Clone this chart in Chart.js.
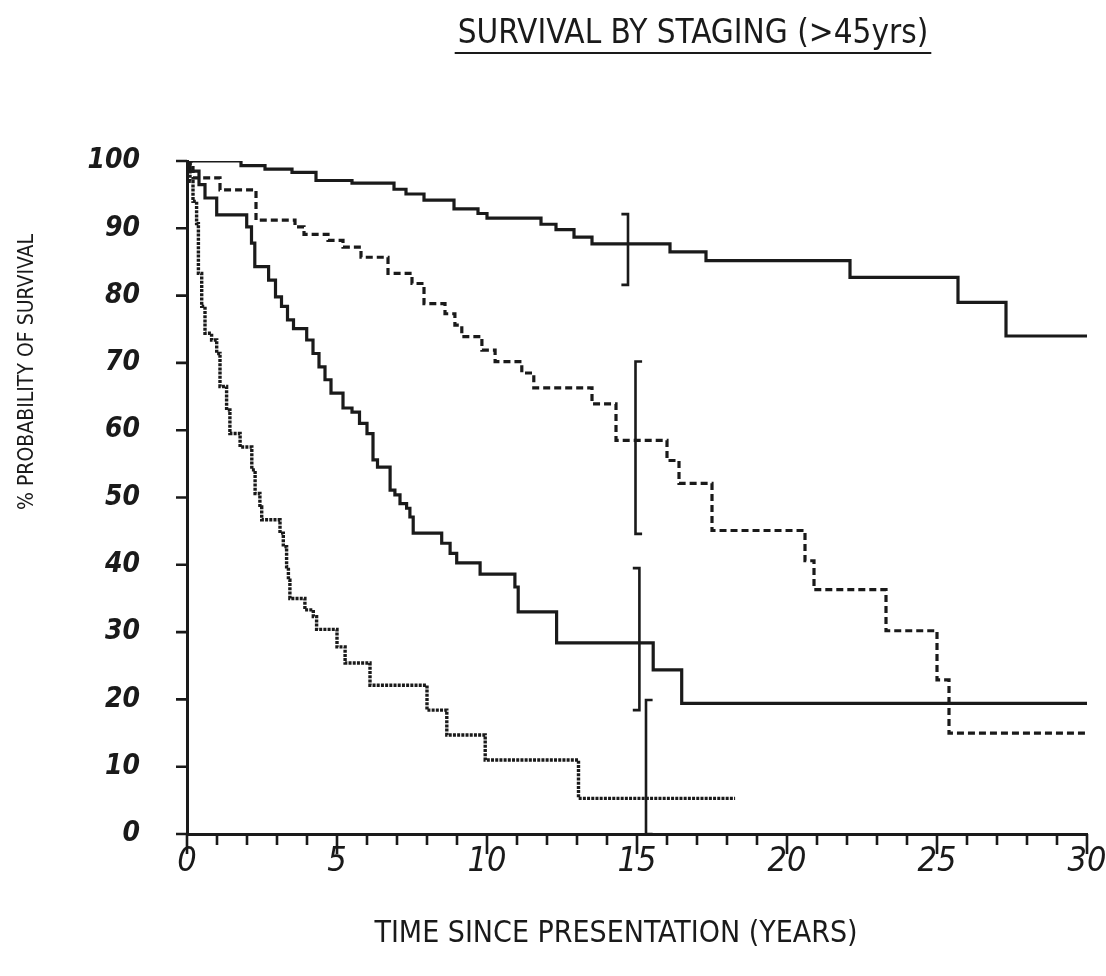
<!DOCTYPE html>
<html>
<head>
<meta charset="utf-8">
<title>Survival by staging (&gt;45yrs)</title>
<script src="https://cdn.jsdelivr.net/npm/chart.js@4.4.0/dist/chart.umd.min.js"></script>
<style>
  html, body { margin: 0; padding: 0; background: #ffffff; }
  canvas { display: block; }
</style>
</head>
<body>
<canvas id="survivalChart" width="1106" height="976"></canvas>
<script>
// Kaplan-Meier estimates: time of each drop (years) and the survival (%) after it
const stageATimes = [0, 1.8, 2.6, 3.5, 4.3, 5.5, 6.9, 7.3, 7.9, 8.9, 9.7, 10.0, 11.8, 12.3, 12.9, 13.5, 16.1, 17.3, 22.1, 25.7, 27.3, 30];
const stageASurv  = [100, 99.3, 98.8, 98.3, 97.1, 96.7, 95.8, 95.1, 94.2, 92.9, 92.2, 91.5, 90.6, 89.8, 88.7, 87.7, 86.5, 85.2, 82.7, 79.0, 74.0, 74.0];

const stageBTimes = [0, 0.2, 1.1, 2.3, 3.6, 3.9, 4.7, 5.2, 5.8, 6.7, 7.5, 7.9, 8.6, 8.93, 9.16, 9.83, 10.27, 11.16, 11.56, 13.5, 14.3, 16.0, 16.4, 17.5, 20.6, 20.9, 23.3, 25.0, 25.4, 30];
const stageBSurv  = [100, 97.5, 95.7, 91.2, 90.2, 89.1, 88.2, 87.2, 85.7, 83.3, 81.8, 78.8, 77.3, 75.6, 73.9, 71.9, 70.2, 68.5, 66.3, 63.9, 58.5, 55.5, 52.1, 45.1, 40.6, 36.3, 30.2, 22.9, 15.0, 15.0];

const stageCTimes = [0, 0.1, 0.4, 0.6, 0.99, 1.99, 2.15, 2.26, 2.72, 2.95, 3.15, 3.35, 3.55, 3.99, 4.2, 4.4, 4.6, 4.8, 5.2, 5.5, 5.75, 6.0, 6.2, 6.35, 6.77, 6.93, 7.1, 7.32, 7.43, 7.54, 8.49, 8.77, 8.99, 9.77, 10.93, 11.04, 12.32, 15.54, 16.49, 30];
const stageCSurv  = [100, 98.5, 96.5, 94.5, 92.0, 90.2, 87.8, 84.3, 82.3, 79.8, 78.4, 76.4, 75.1, 73.4, 71.4, 69.4, 67.5, 65.5, 63.3, 62.7, 61.0, 59.5, 55.6, 54.5, 51.1, 50.4, 49.1, 48.4, 47.1, 44.7, 43.2, 41.7, 40.3, 38.6, 36.7, 33.0, 28.4, 24.4, 19.4, 19.4];

const stageDTimes = [0, 0.1, 0.2, 0.32, 0.38, 0.49, 0.6, 0.82, 0.99, 1.1, 1.32, 1.43, 1.77, 2.16, 2.27, 2.43, 2.49, 3.1, 3.21, 3.32, 3.38, 3.43, 3.93, 4.21, 4.32, 5.0, 5.27, 6.1, 8.0, 8.66, 9.94, 13.05, 18.27];
const stageDSurv  = [100, 97, 94, 90.7, 83.3, 78.4, 74.4, 73.4, 71.4, 66.5, 63.0, 59.5, 57.5, 54.1, 50.6, 48.6, 46.7, 44.7, 42.7, 39.7, 37.7, 35.0, 33.3, 32.3, 30.4, 27.8, 25.4, 22.1, 18.4, 14.7, 11.0, 5.3, 5.3];

// 95% confidence limits at 15 years, one per stage (A, B, C, D)
const ciTimes = [14.7, 14.95, 15.08, 15.3];
const ciLower = [81.6, 44.6, 18.4, 0];
const ciUpper = [92.1, 70.2, 39.5, 19.9];
const ciCapSide = [-1, 1, -1, 1];

const xTickValues = [0, 5, 10, 15, 20, 25, 30];
const xTickLabels = ['0', '5', '10', '15', '20', '25', '30'];
const yTickValues = [0, 10, 20, 30, 40, 50, 60, 70, 80, 90, 100];
const yTickLabels = ['0', '10', '20', '30', '40', '50', '60', '70', '80', '90', '100'];

const chartTitle = 'SURVIVAL BY STAGING (>45yrs)';
const xTitle = 'TIME SINCE PRESENTATION (YEARS)';
const yTitle = '% PROBABILITY OF SURVIVAL';

const ink = '#1a1a1a';
const narrow = '"Liberation Sans Narrow", "DejaVu Sans Condensed", "Arial Narrow", sans-serif';

function toPoints(times, surv) {
  return times.map((t, i) => ({ x: t, y: surv[i] }));
}

function curve(label, times, surv, dash, width) {
  return {
    label: label,
    data: toPoints(times, surv),
    stepped: 'before',
    borderColor: ink,
    borderWidth: width,
    borderDash: dash,
    borderCapStyle: 'butt',
    pointRadius: 0,
    fill: false
  };
}

const capLen = 0.22;
const ciSets = ciTimes.map((t, i) => ({
  label: 'ci' + i,
  data: [
    { x: t + ciCapSide[i] * capLen, y: ciUpper[i] },
    { x: t, y: ciUpper[i] },
    { x: t, y: ciLower[i] },
    { x: t + ciCapSide[i] * capLen, y: ciLower[i] }
  ],
  borderColor: ink,
  borderWidth: 2.6,
  pointRadius: 0,
  fill: false
}));

// axis tick marks plus the titles, drawn from the chart's scales
const frame = {
  id: 'frame',
  afterDraw(chart) {
    const { ctx, chartArea, scales: { x, y } } = chart;
    ctx.save();
    ctx.strokeStyle = ink;
    ctx.lineWidth = 2.6;
    ctx.beginPath();
    for (let v = 0; v <= 30; v++) {
      const px = x.getPixelForValue(v);
      const len = v % 5 === 0 ? 20 : 11;
      ctx.moveTo(px, chartArea.bottom);
      ctx.lineTo(px, chartArea.bottom + len);
    }
    yTickValues.forEach(v => {
      const py = y.getPixelForValue(v);
      ctx.moveTo(chartArea.left - 11, py);
      ctx.lineTo(chartArea.left, py);
    });
    ctx.stroke();

    ctx.fillStyle = ink;
    ctx.textAlign = 'center';
    ctx.textBaseline = 'middle';

    ctx.font = '33px ' + narrow;
    ctx.fillText(chartTitle, 693, 34);
    const w = ctx.measureText(chartTitle).width;
    ctx.lineWidth = 2;
    ctx.beginPath();
    ctx.moveTo(693 - w / 2 - 3, 53);
    ctx.lineTo(693 + w / 2 + 3, 53);
    ctx.stroke();

    ctx.font = '30px ' + narrow;
    ctx.fillText(xTitle, 616, 934);

    ctx.translate(28, 372);
    ctx.rotate(-Math.PI / 2);
    ctx.font = '21px ' + narrow;
    ctx.fillText(yTitle, 0, 0);
    ctx.restore();
  }
};

new Chart(document.getElementById('survivalChart'), {
  type: 'line',
  data: {
    datasets: [
      curve('Stage A', stageATimes, stageASurv, [], 3.2),
      curve('Stage B', stageBTimes, stageBSurv, [7, 4], 3.2),
      curve('Stage C', stageCTimes, stageCSurv, [], 3.2),
      curve('Stage D', stageDTimes, stageDSurv, [3, 1.2], 3.4)
    ].concat(ciSets)
  },
  options: {
    responsive: false,
    animation: false,
    layout: { padding: { left: 0, top: 161, right: 19, bottom: 0 } },
    plugins: {
      legend: { display: false },
      tooltip: { enabled: false },
      title: { display: false }
    },
    scales: {
      x: {
        type: 'linear',
        min: 0,
        max: 30,
        afterBuildTicks: s => { s.ticks = xTickValues.map(v => ({ value: v })); },
        afterFit: s => { s.height = 142; s.paddingLeft = 0; s.paddingRight = 0; },
        grid: { display: false, drawTicks: false },
        border: { display: true, width: 3, color: ink },
        ticks: {
          color: ink,
          padding: 11,
          maxRotation: 0,
          font: { family: narrow, size: 34, style: 'italic', lineHeight: 1 },
          callback: (v, i) => xTickLabels[i]
        }
      },
      y: {
        type: 'linear',
        min: 0,
        max: 100,
        afterBuildTicks: s => { s.ticks = yTickValues.map(v => ({ value: v })); },
        afterFit: s => { s.width = 187; s.paddingTop = 0; s.paddingBottom = 0; },
        grid: { display: false, drawTicks: false },
        border: { display: true, width: 3, color: ink },
        ticks: {
          color: ink,
          padding: 47,
          font: { family: narrow, size: 28, style: 'italic', weight: 'bold', lineHeight: 1 },
          callback: (v, i) => yTickLabels[i]
        }
      }
    }
  },
  plugins: [frame]
});
</script>
</body>
</html>
